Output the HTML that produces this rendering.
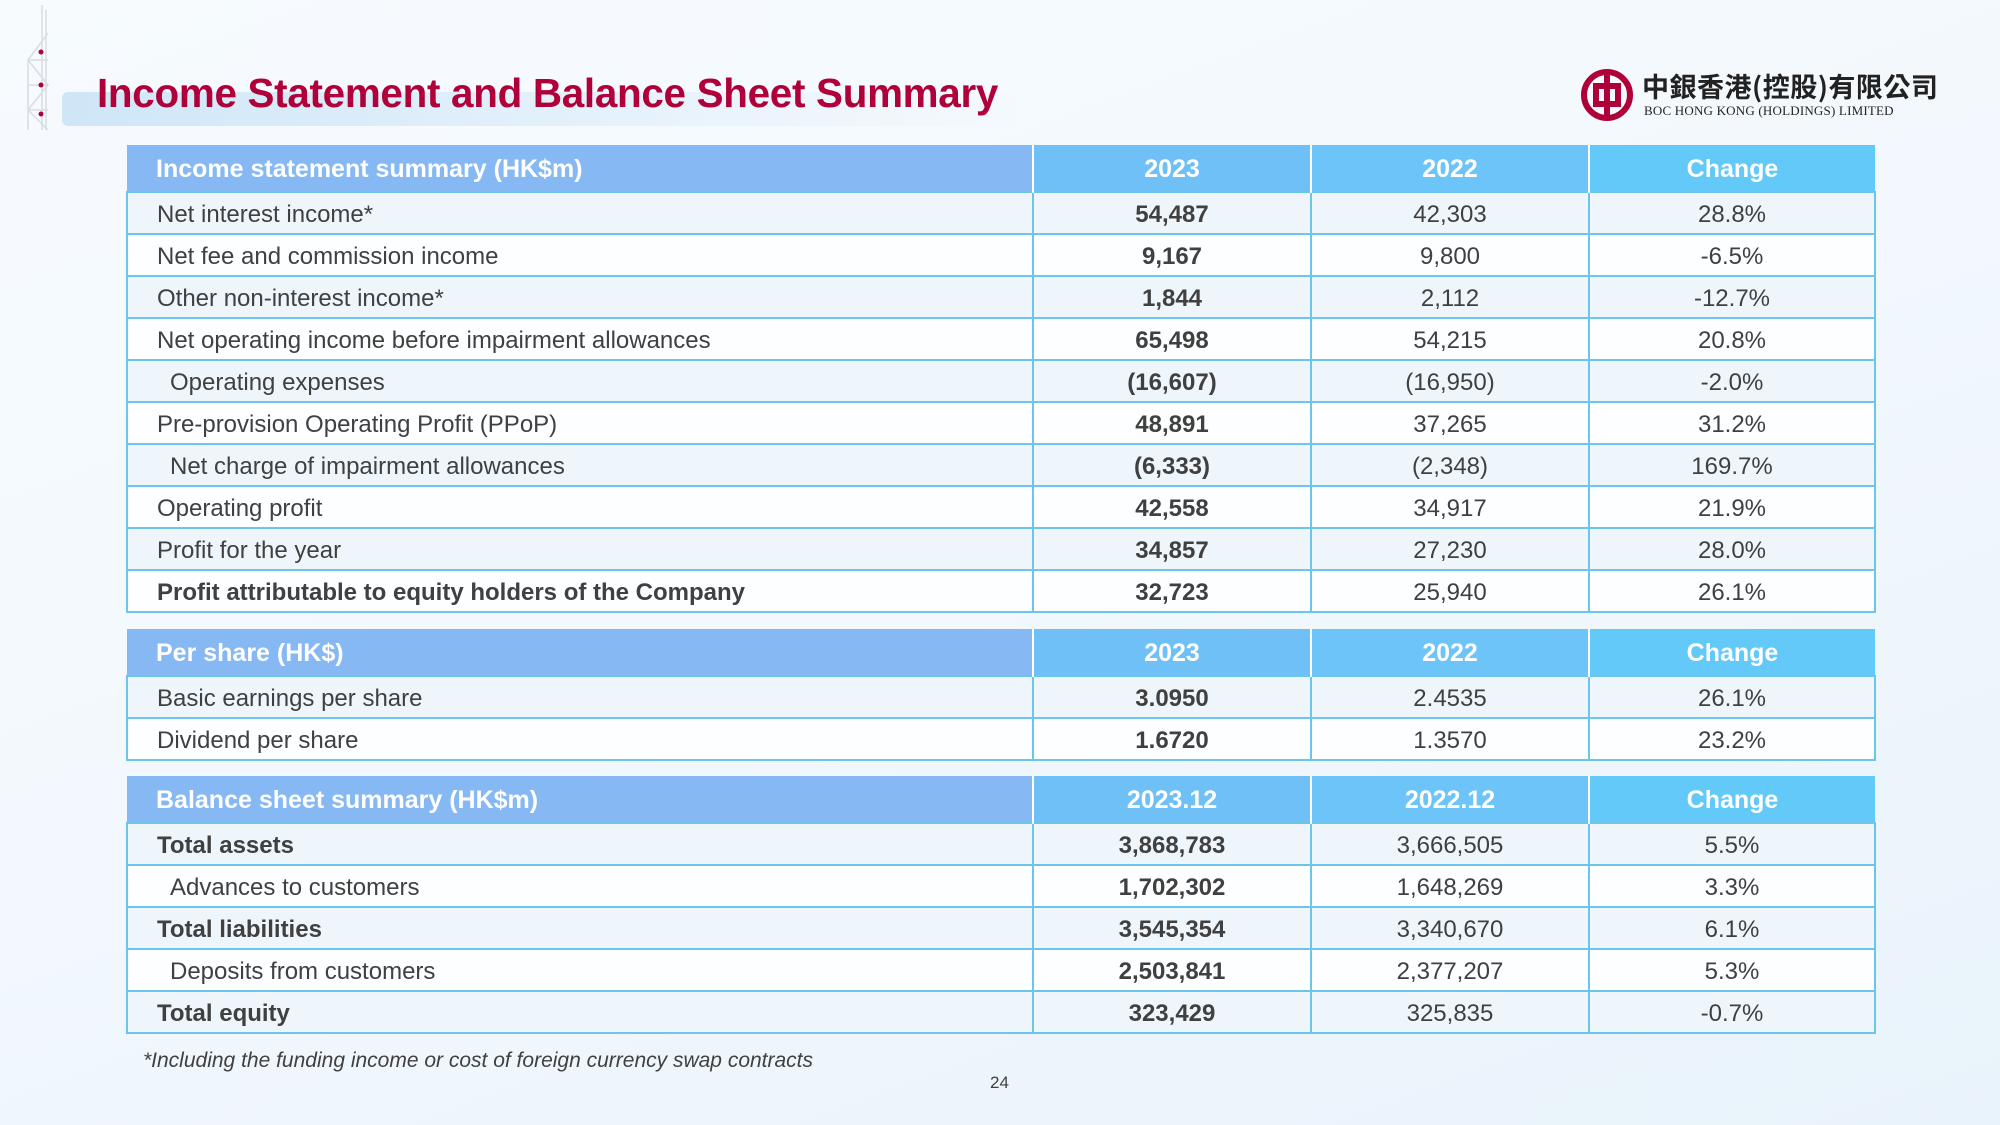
<!DOCTYPE html>
<html><head><meta charset="utf-8">
<style>
html,body{margin:0;padding:0;}
body{width:2000px;height:1125px;position:relative;overflow:hidden;
background:linear-gradient(160deg,#f7fbfe 0%,#f2f8fd 50%,#e9f3fb 100%);
font-family:"Liberation Sans",sans-serif;color:#404040;}
.title{position:absolute;left:97px;top:70px;font-size:41px;font-weight:bold;color:#b0003a;
transform:scaleX(0.985);transform-origin:left top;white-space:nowrap;letter-spacing:-0.3px}
.bar{position:absolute;left:62px;top:92px;width:960px;height:34px;
background:linear-gradient(90deg,#cfe6f7,#e6f2fb 60%,rgba(240,247,253,0));border-radius:6px}
table{position:absolute;left:126px;width:1748px;border-collapse:collapse;table-layout:fixed}
td{border:2px solid #6cc6ec;font-size:24px;height:36px;padding:4px 0 0 0;text-align:center;white-space:nowrap;vertical-align:middle}
td.l{text-align:left;padding-left:29px}
td.i{padding-left:42px}
tr.h td{height:43px;padding-top:3px;color:#fff;font-weight:bold;font-size:25px;border:none;border-right:2px solid #fff}
tr.h td:last-child{border-right:none}
tr.h td:nth-child(1){background:#86b8f4}
tr.h td:nth-child(2){background:#70c0f8}
tr.h td:nth-child(3){background:#6cc4f9}
tr.h td:nth-child(4){background:#62c9f9}
tr:nth-child(even) td{background:#eef6fc}
tr:nth-child(odd):not(.h) td{background:#fcfeff}
td.b,b{font-weight:bold}
.foot{position:absolute;left:143px;top:1049px;font-size:21px;font-style:italic;color:#404040}
.pg{position:absolute;left:990px;top:1073px;font-size:17px;color:#404040}
</style></head><body>
<svg style="position:absolute;left:20px;top:5px" width="45" height="125" viewBox="0 0 45 125">
<g fill="none" stroke="#d8dde3" stroke-width="1.5">
<line x1="22" y1="0" x2="22" y2="125"/><line x1="26" y1="5" x2="26" y2="125"/>
<path d="M28 28 L8 55 L28 80 L8 105 L28 125 M8 55 L8 125 M8 55 L28 55 M8 80 L28 80 M8 105 L28 105"/>
</g>
<circle cx="21" cy="47" r="2.5" fill="#b0003a"/><circle cx="21" cy="80" r="2.5" fill="#b0003a"/><circle cx="21" cy="109" r="2.5" fill="#b0003a"/>
</svg>
<div class="bar"></div>
<div class="title">Income Statement and Balance Sheet Summary</div>
<svg style="position:absolute;left:1580px;top:67px" width="54" height="56" viewBox="0 0 54 56">
<circle cx="27" cy="28" r="23" fill="none" stroke="#b0003a" stroke-width="6"/>
<rect x="16" y="19" width="22" height="18" fill="none" stroke="#b0003a" stroke-width="6"/>
<rect x="24" y="5" width="6" height="46" fill="#b0003a"/>
</svg>
<div style="position:absolute;left:1642px;top:69px;font-family:'Noto Sans CJK TC',sans-serif;font-weight:bold;font-size:27px;color:#222;letter-spacing:0.5px;line-height:34px">中銀香港(控股)有限公司</div>
<div style="position:absolute;left:1644px;top:103px;font-family:'Liberation Serif',serif;font-size:13px;color:#222;letter-spacing:0.2px">BOC HONG KONG (HOLDINGS) LIMITED</div>

<table style="top:145px">
<colgroup><col style="width:906px"><col style="width:278px"><col style="width:278px"><col style="width:286px"></colgroup>
<tr class="h"><td class="l">Income statement summary (HK$m)</td><td>2023</td><td>2022</td><td>Change</td></tr>
<tr><td class="l">Net interest income*</td><td class="b">54,487</td><td>42,303</td><td>28.8%</td></tr>
<tr><td class="l">Net fee and commission income</td><td class="b">9,167</td><td>9,800</td><td>-6.5%</td></tr>
<tr><td class="l">Other non-interest income*</td><td class="b">1,844</td><td>2,112</td><td>-12.7%</td></tr>
<tr><td class="l">Net operating income before impairment allowances</td><td class="b">65,498</td><td>54,215</td><td>20.8%</td></tr>
<tr><td class="l i">Operating expenses</td><td class="b">(16,607)</td><td>(16,950)</td><td>-2.0%</td></tr>
<tr><td class="l">Pre-provision Operating Profit (PPoP)</td><td class="b">48,891</td><td>37,265</td><td>31.2%</td></tr>
<tr><td class="l i">Net charge of impairment allowances</td><td class="b">(6,333)</td><td>(2,348)</td><td>169.7%</td></tr>
<tr><td class="l">Operating profit</td><td class="b">42,558</td><td>34,917</td><td>21.9%</td></tr>
<tr><td class="l">Profit for the year</td><td class="b">34,857</td><td>27,230</td><td>28.0%</td></tr>
<tr><td class="l b">Profit attributable to equity holders of the Company</td><td class="b">32,723</td><td>25,940</td><td>26.1%</td></tr>
</table>

<table style="top:629px">
<colgroup><col style="width:906px"><col style="width:278px"><col style="width:278px"><col style="width:286px"></colgroup>
<tr class="h"><td class="l">Per share (HK$)</td><td>2023</td><td>2022</td><td>Change</td></tr>
<tr><td class="l">Basic earnings per share</td><td class="b">3.0950</td><td>2.4535</td><td>26.1%</td></tr>
<tr><td class="l">Dividend per share</td><td class="b">1.6720</td><td>1.3570</td><td>23.2%</td></tr>
</table>

<table style="top:776px">
<colgroup><col style="width:906px"><col style="width:278px"><col style="width:278px"><col style="width:286px"></colgroup>
<tr class="h"><td class="l">Balance sheet summary (HK$m)</td><td>2023.12</td><td>2022.12</td><td>Change</td></tr>
<tr><td class="l b">Total assets</td><td class="b">3,868,783</td><td>3,666,505</td><td>5.5%</td></tr>
<tr><td class="l i">Advances to customers</td><td class="b">1,702,302</td><td>1,648,269</td><td>3.3%</td></tr>
<tr><td class="l b">Total liabilities</td><td class="b">3,545,354</td><td>3,340,670</td><td>6.1%</td></tr>
<tr><td class="l i">Deposits from customers</td><td class="b">2,503,841</td><td>2,377,207</td><td>5.3%</td></tr>
<tr><td class="l b">Total equity</td><td class="b">323,429</td><td>325,835</td><td>-0.7%</td></tr>
</table>

<div class="foot">*Including the funding income or cost of foreign currency swap contracts</div>
<div class="pg">24</div>
</body></html>
